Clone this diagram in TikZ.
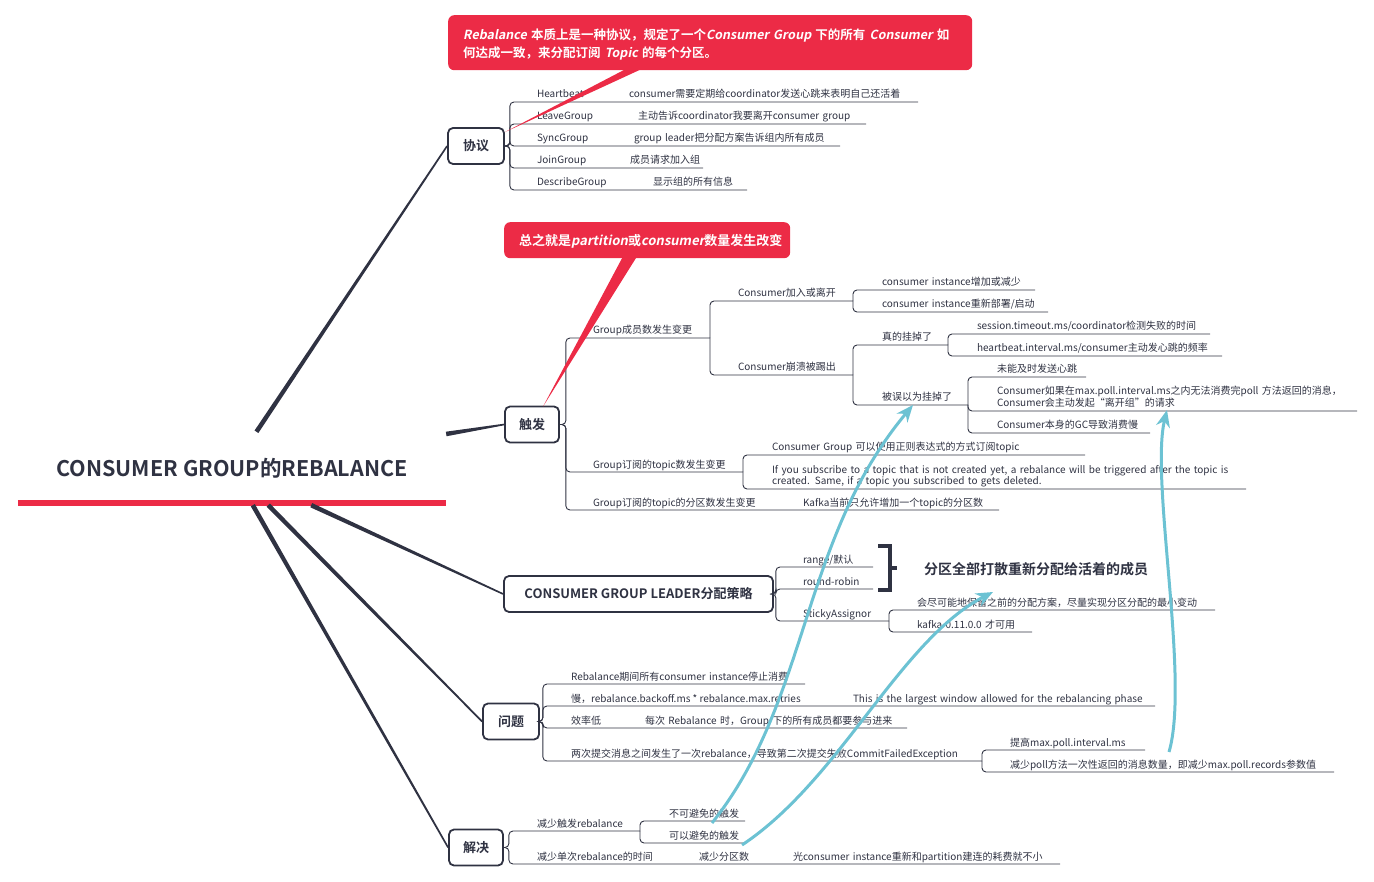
\documentclass[tikz,border=0pt]{standalone}
\usepackage{fontspec}
\setmainfont{Noto Sans CJK SC}[BoldFont={* Bold}, ItalicFont={*}, ItalicFeatures={FakeSlant=0.2}, BoldItalicFont={* Bold}, BoldItalicFeatures={FakeSlant=0.2}]
\usetikzlibrary{arrows.meta,calc}
\definecolor{ink}{HTML}{2F3242}
\definecolor{alert}{HTML}{EC2B46}
\definecolor{sky}{HTML}{6CC2D3}
\tikzset{
  rootbox/.style={minimum width=428pt, minimum height=73pt, inner sep=0pt, text=ink, font=\bfseries\fontsize{21.5}{25}\selectfont},
  topic/.style={draw=ink, line width=1.8pt, rounded corners=5pt, fill=white, text=ink, font=\bfseries\fontsize{13}{15}\selectfont, minimum height=36pt, inner sep=0pt},
  leaf/.style={anchor=south west, inner xsep=0pt, inner ysep=4pt, outer sep=0pt, text depth=0pt, align=left, text=ink, font=\fontsize{10}{12}\selectfont},
  link/.style={draw=ink, line width=0.9pt, rounded corners=4pt},
  note/.style={fill=alert, rounded corners=6pt, text=white, align=left, inner xsep=15pt, inner ysep=0pt, anchor=north west},
  hint/.style={-{Stealth[length=17pt,width=14pt]}, draw=sky, line width=3pt},
}
\begin{document}
\begin{tikzpicture}[x=1pt,y=-1pt]
\useasboundingbox (0,0) rectangle (1374,882);

% root and main topics
\node[rootbox] (root) at (232,468.5) {CONSUMER GROUP的REBALANCE};
\draw[alert, line width=6pt] ([yshift=2pt]root.south west) -- ([yshift=2pt]root.south east);
\node[topic, minimum width=56pt] (xieyi) at (476,146) {协议};
\node[topic, minimum width=54pt] (chufa) at (532,424.5) {触发};
\node[topic, minimum width=269pt] (leader) at (638.5,594) {CONSUMER GROUP LEADER分配策略};
\node[topic, minimum width=56pt] (wenti) at (511,721.5) {问题};
\node[topic, minimum width=54pt] (jiejue) at (476,847.5) {解决};
\foreach \t in {xieyi.west,chufa.west,leader.west,wenti.west,jiejue.west} {
  \path (root) -- coordinate[pos=0] (bs) (\t);
  \fill[ink] ($(bs)!2.3pt!90:(\t)$) -- ($(\t)!0.8pt!-90:(bs)$) -- ($(\t)!0.8pt!90:(bs)$) -- ($(bs)!2.3pt!-90:(\t)$) -- cycle;
}

% 协议
\node[leaf] (hb) at (537,102) {Heartbeat};
\node[leaf, text width=289pt] (hbD) at (629,102) {consumer需要定期给coordinator发送心跳来表明自己还活着};
\node[leaf] (lg) at (537,124) {LeaveGroup};
\node[leaf, text width=228pt] (lgD) at (638,124) {主动告诉coordinator我要离开consumer group};
\node[leaf] (sg) at (537,146) {SyncGroup};
\node[leaf, text width=206pt] (sgD) at (634,146) {group leader把分配方案告诉组内所有成员};
\node[leaf] (jg) at (537,168) {JoinGroup};
\node[leaf, text width=73pt] (jgD) at (630,168) {成员请求加入组};
\node[leaf] (dg) at (537,190) {DescribeGroup};
\node[leaf, text width=94pt] (dgD) at (653,190) {显示组的所有信息};
\foreach \c in {hbD,lgD,sgD,jgD,dgD}
  \draw[link] (xieyi.east) -- ++(5,0) |- (\c.south east);

% 触发
\node[leaf, text width=117pt] (gm) at (593,338) {Group成员数发生变更};
\node[leaf, text width=115pt] (ca) at (738,301) {Consumer加入或离开};
\node[leaf, text width=153pt] (ca1) at (882,290) {consumer instance增加或减少};
\node[leaf, text width=166pt] (ca2) at (882,312) {consumer instance重新部署/启动};
\node[leaf, text width=115pt] (cb) at (738,375) {Consumer崩溃被踢出};
\node[leaf, text width=66pt] (cb1) at (882,345) {真的挂掉了};
\node[leaf, text width=233pt] (cb11) at (977,334) {session.timeout.ms/coordinator检测失败的时间};
\node[leaf, text width=245pt] (cb12) at (977,356) {heartbeat.interval.ms/consumer主动发心跳的频率};
\node[leaf, text width=86pt] (cb2) at (882,405) {被误以为挂掉了};
\node[leaf, text width=89pt] (cb21) at (997,377) {未能及时发送心跳};
\node[leaf, text width=360pt, text depth=12pt] (cb22) at (997,411) {Consumer如果在max.poll.interval.ms之内无法消费完poll 方法返回的消息，\\Consumer会主动发起“离开组”的请求};
\node[leaf, text width=153pt] (cb23) at (997,433) {Consumer本身的GC导致消费慢};
\node[leaf, text width=150pt] (gt) at (593,472) {Group订阅的topic数发生变更};
\node[leaf, text width=313pt] (gt1) at (772,455) {Consumer Group 可以使用正则表达式的方式订阅topic};
\node[leaf, text width=474pt, text depth=12pt] (gt2) at (772,489) {If you subscribe to a topic that is not created yet, a rebalance will be triggered after the topic is\\created. Same, if a topic you subscribed to gets deleted.};
\node[leaf] (gp) at (593,510) {Group订阅的topic的分区数发生变更};
\node[leaf, text width=196pt] (gpD) at (803,510) {Kafka当前只允许增加一个topic的分区数};
\foreach \c in {gm,gt,gpD}
  \draw[link] (chufa.east) -- ++(6,0) |- (\c.south east);
\foreach \c in {ca,cb}
  \draw[link] (gm.south east) |- (\c.south east);
\foreach \c in {ca1,ca2}
  \draw[link] (ca.south east) |- (\c.south east);
\foreach \c in {cb1,cb2}
  \draw[link] (cb.south east) |- (\c.south east);
\foreach \c in {cb11,cb12}
  \draw[link] (cb1.south east) |- (\c.south east);
\foreach \c in {cb21,cb22,cb23}
  \draw[link] (cb2.south east) |- (\c.south east);
\foreach \c in {gt1,gt2}
  \draw[link] (gt.south east) |- (\c.south east);

% 分配策略
\node[leaf, text width=70pt] (rg) at (803,567) {range/默认};
\node[leaf, text width=70pt] (rr) at (803,589) {round-robin};
\node[leaf, text width=86pt] (st) at (803,621) {StickyAssignor};
\node[leaf, text width=298pt] (st1) at (917,610) {会尽可能地保留之前的分配方案，尽量实现分区分配的最小变动};
\node[leaf, text width=115pt] (st2) at (917,632) {kafka 0.11.0.0 才可用};
\foreach \c in {rg,rr,st}
  \draw[link] (leader.east) -- ++(2,0) |- (\c.south east);
\foreach \c in {st1,st2}
  \draw[link] (st.south east) |- (\c.south east);
\draw[ink, line width=3.5pt] (878,546) -- (890,546) -- (890,590) -- (878,590);
\draw[ink, line width=3.5pt] (890,568) -- (897,568);
\node[anchor=west, inner sep=0pt, text=ink, font=\bfseries\fontsize{14}{16}\selectfont] (sum) at (924,569) {分区全部打散重新分配给活着的成员};

% 问题
\node[leaf, text width=234pt] (w1) at (571,684) {Rebalance期间所有consumer instance停止消费};
\node[leaf] (w2) at (571,706) {慢，rebalance.backoff.ms * rebalance.max.retries};
\node[leaf, text width=302pt] (w2D) at (853,706) {This is the largest window allowed for the rebalancing phase};
\node[leaf] (w3) at (571,728) {效率低};
\node[leaf, text width=262pt] (w3D) at (645,728) {每次 Rebalance 时，Group 下的所有成员都要参与进来};
\node[leaf, text width=411pt] (w4) at (571,761) {两次提交消息之间发生了一次rebalance，导致第二次提交失败CommitFailedException};
\node[leaf, text width=135pt] (w41) at (1010,750) {提高max.poll.interval.ms};
\node[leaf, text width=324pt] (w42) at (1010,772) {减少poll方法一次性返回的消息数量，即减少max.poll.records参数值};
\foreach \c in {w1,w2D,w3D,w4}
  \draw[link] (wenti.east) -- ++(3,0) |- (\c.south east);
\foreach \c in {w41,w42}
  \draw[link] (w4.south east) |- (\c.south east);

% 解决
\node[leaf, text width=103pt] (j1) at (537,831) {减少触发rebalance};
\node[leaf, text width=76pt] (j11) at (669,821) {不可避免的触发};
\node[leaf, text width=76pt] (j12) at (669,843) {可以避免的触发};
\node[leaf] (j2) at (537,864) {减少单次rebalance的时间};
\node[leaf] (j2a) at (699,864) {减少分区数};
\node[leaf, text width=267pt] (j2b) at (793,864) {光consumer instance重新和partition建连的耗费就不小};
\foreach \c in {j1,j2b}
  \draw[link] (jiejue.east) -- ++(5,0) |- (\c.south east);
\foreach \c in {j11,j12}
  \draw[link] (j1.south east) |- (\c.south east);

% callouts
\node[note, text width=494pt, text height=15pt, minimum height=55pt, font=\bfseries\fontsize{12.5}{18}\selectfont] (note1) at (448,15) {\textit{Rebalance} 本质上是一种协议，规定了一个\textit{Consumer Group} 下的所有 \textit{Consumer} 如\\何达成一致，来分配订阅 \textit{Topic} 的每个分区。};
\fill[alert] ([xshift=179pt,yshift=2pt]note1.south west) -- ([xshift=195pt,yshift=2pt]note1.south west) -- ([yshift=-5pt]xieyi.north east) -- cycle;
\node[note, text width=256pt, text height=13.5pt, minimum height=36pt, font=\bfseries\fontsize{13}{15}\selectfont] (note2) at (504,222) {总之就是\textit{partition}或\textit{consumer}数量发生改变};
\fill[alert] ([xshift=119pt,yshift=2pt]note2.south west) -- ([xshift=133pt,yshift=2pt]note2.south west) -- ([xshift=11pt,yshift=-1pt]chufa.north) -- cycle;

% hints
\draw[hint] ([xshift=43pt,yshift=-2pt]j11.south west) .. controls +(98,-123) and +(-113,135) .. ([xshift=31pt]cb2.south west);
\draw[hint] ([xshift=-3pt,yshift=-2pt]j12.south east) .. controls +(98,-65) and +(-93,48) .. ([xshift=69pt,yshift=-23pt]sum.west);
\draw[hint] ([xshift=159pt,yshift=20pt]w42.south west) .. controls +(21,-72) and +(-17,70) .. ([xshift=170pt,yshift=1pt]cb22.south west);
\end{tikzpicture}
\end{document}
